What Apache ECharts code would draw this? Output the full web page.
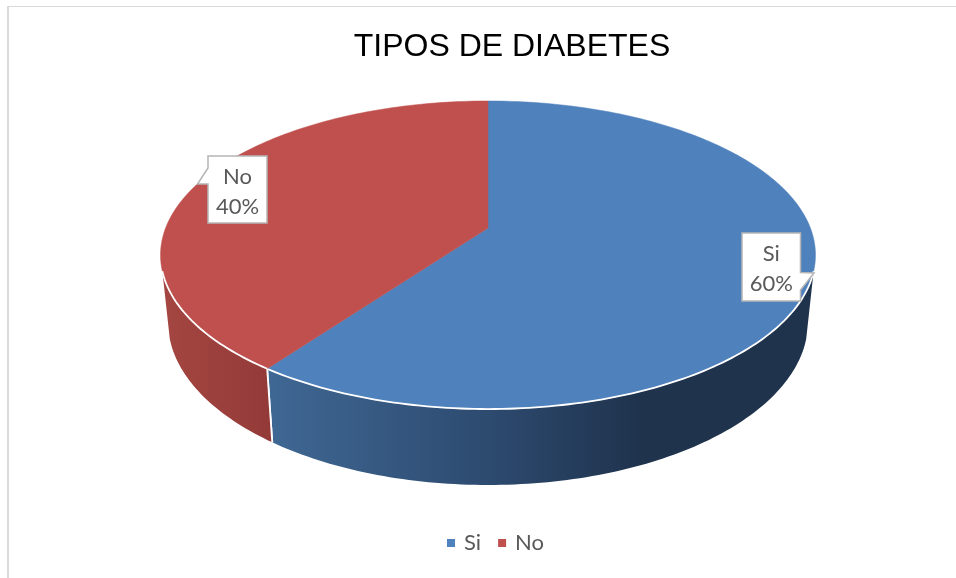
<!DOCTYPE html>
<html>
<head>
<meta charset="utf-8">
<title>Tipos de diabetes</title>
<style>
  html, body { margin: 0; padding: 0; background: #fff; }
  #main { width: 956px; height: 578px; }
</style>
<script src="https://cdn.jsdelivr.net/npm/echarts@6/dist/echarts.min.js"></script>
</head>
<body>
<div id="main"></div>
<script>
const titleText = 'TIPOS DE DIABETES';
const categories = ['Si', 'No'];
const seriesValues = [60, 40];

const topColors = ['#4f81bd', '#bf504d'];
const wallStops = [
  [[0, '#3f6894'], [0.41, '#2d4a6f'], [0.68, '#1f334d'], [1, '#1f334c']],
  [[0, '#a44641'], [1, '#933a38']]
];
// label boxes: x, y, w, h and the pointer outline
const labelBoxes = [
  { x: 742, y: 233, w: 58.5, h: 68, points: [[742, 233], [800.5, 233], [800.5, 272.5], [814, 273], [800.5, 290], [800.5, 301], [742, 301]] },
  { x: 208, y: 156, w: 59, h: 67, points: [[208, 156], [267, 156], [267, 223], [208, 223], [208, 184], [197.5, 184], [208, 168]] }
];

// perspective of the disc, top face and bottom face
const tilt = 0.1753;
const topFace = { cx: 488, cy: 228, a: 322.4, b: 149.3 };
const bottomFace = { cx: 488, cy: 293.4, a: 315, b: 158 };
// part of the rim that faces the viewer, degrees clockwise from the back
const wallFrom = 106;
const wallTo = 254;

function project(face, deg) {
  const t = deg * Math.PI / 180;
  const sx = Math.sin(t);
  const sy = -Math.cos(t);
  const w = 1 - tilt * sy;
  return [face.cx + face.a * sx / w, face.cy + face.b * sy / w];
}

function arcPoints(face, from, to) {
  const pts = [];
  const n = Math.max(2, Math.ceil(Math.abs(to - from)));
  for (let i = 0; i <= n; i++) {
    pts.push(project(face, from + (to - from) * i / n));
  }
  return pts;
}

const total = seriesValues.reduce((s, v) => s + v, 0);
let running = 0;
const sliceAngles = seriesValues.map(v => {
  const from = running / total * 360;
  running += v;
  return [from, running / total * 360];
});

function renderSlice(i) {
  const from = sliceAngles[i][0];
  const to = sliceAngles[i][1];
  const wFrom = Math.max(from, wallFrom);
  const wTo = Math.min(to, wallTo);
  const children = [];

  if (wTo > wFrom) {
    const topRim = arcPoints(topFace, wFrom, wTo);
    const bottomRim = arcPoints(bottomFace, wFrom, wTo).reverse();
    children.push({
      type: 'polygon',
      shape: { points: topRim.concat(bottomRim) },
      style: { fill: new echarts.graphic.LinearGradient(0, 0, 1, 0, wallStops[i].map(s => ({ offset: s[0], color: s[1] }))) }
    });
  }

  const face = [[topFace.cx, topFace.cy]].concat(arcPoints(topFace, from, to));
  children.push({
    type: 'polygon',
    shape: { points: face },
    style: { fill: topColors[i], stroke: topColors[i], lineWidth: 0.5 }
  });

  // white line along the front rim and down the seam between the walls
  if (wTo > wFrom) {
    children.push({
      type: 'polyline',
      shape: { points: arcPoints(topFace, wFrom, wTo) },
      style: { fill: null, stroke: '#fff', lineWidth: 1.8 }
    });
    [from, to].forEach(a => {
      if (a > wallFrom && a < wallTo) {
        children.push({
          type: 'polyline',
          shape: { points: [project(topFace, a), project(bottomFace, a)] },
          style: { fill: null, stroke: '#fff', lineWidth: 1.8 }
        });
      }
    });
  }

  const box = labelBoxes[i];
  children.push({
    type: 'polygon',
    shape: { points: box.points },
    style: { fill: '#fff', stroke: '#b5b5b5', lineWidth: 1.5 }
  });
  children.push({
    type: 'text',
    style: {
      text: categories[i] + '\n' + Math.round(seriesValues[i] / total * 100) + '%',
      x: box.x + box.w / 2,
      y: box.y + box.h / 2 + 2,
      align: 'center',
      verticalAlign: 'middle',
      fill: '#595959',
      fontFamily: 'Lato',
      fontSize: 22,
      lineHeight: 30
    }
  });
  return { type: 'group', children: children };
}

const chart = echarts.init(document.getElementById('main'), null, { renderer: 'canvas' });

chart.setOption({
  animation: false,
  backgroundColor: '#fff',
  title: {
    text: titleText,
    left: 507,
    top: 26,
    textAlign: 'center',
    textStyle: { color: '#000', fontFamily: 'Liberation Sans', fontSize: 32, fontWeight: 'normal' }
  },
  legend: {
    data: categories,
    left: 447,
    top: 532,
    padding: 0,
    icon: 'rect',
    itemWidth: 8,
    itemHeight: 8,
    itemGap: 17,
    textStyle: { color: '#595959', fontFamily: 'Lato', fontSize: 22, padding: [0, 0, 0, 4] }
  },
  graphic: [
    { type: 'rect', shape: { x: 7, y: 6, width: 949, height: 1 }, style: { fill: '#d9d9d9' }, silent: true },
    { type: 'rect', shape: { x: 7, y: 6, width: 2, height: 572 }, style: { fill: '#d9d9d9' }, silent: true }
  ],
  series: categories.map((name, i) => ({
    type: 'custom',
    name: name,
    coordinateSystem: 'none',
    itemStyle: { color: topColors[i] },
    data: [seriesValues[i]],
    renderItem: () => renderSlice(i)
  }))
});
</script>
</body>
</html>
